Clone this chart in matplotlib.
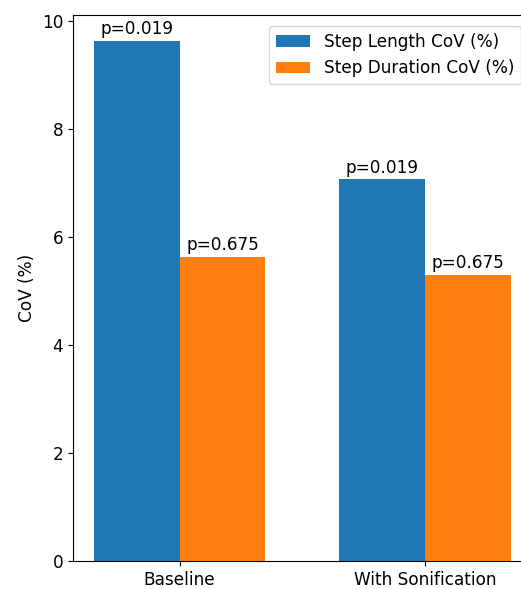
import matplotlib
matplotlib.use("Agg")
import matplotlib.pyplot as plt
import numpy as np

categories = ["Baseline", "With Sonification"]
step_length_cov = [9.635, 7.07]
step_duration_cov = [5.635, 5.30]
p_length = ["p=0.019", "p=0.019"]
p_duration = ["p=0.675", "p=0.675"]

plt.rcParams["font.size"] = 12.2

fig = plt.figure(figsize=(5.21, 5.89), dpi=100)
ax = fig.add_axes([0.140, 0.0475, 0.880, 0.927])

x = np.arange(len(categories))
w = 0.35
b1 = ax.bar(x - w / 2, step_length_cov, w, color="#1f77b4", label="Step Length CoV (%)")
b2 = ax.bar(x + w / 2, step_duration_cov, w, color="#ff7f0e", label="Step Duration CoV (%)")

for bars, labs in ((b1, p_length), (b2, p_duration)):
    for rect, lab in zip(bars, labs):
        ax.annotate(lab, (rect.get_x() + rect.get_width() / 2, rect.get_height()),
                    xytext=(0, 2), textcoords="offset points", ha="center", va="bottom")

ax.set_xticks(x)
ax.set_xticklabels(categories)
ax.set_ylabel("CoV (%)")
ax.spines["right"].set_visible(False)
ax.legend(loc="upper right", bbox_to_anchor=(0.995, 0.995))

fig.savefig("out.png", dpi=100)
